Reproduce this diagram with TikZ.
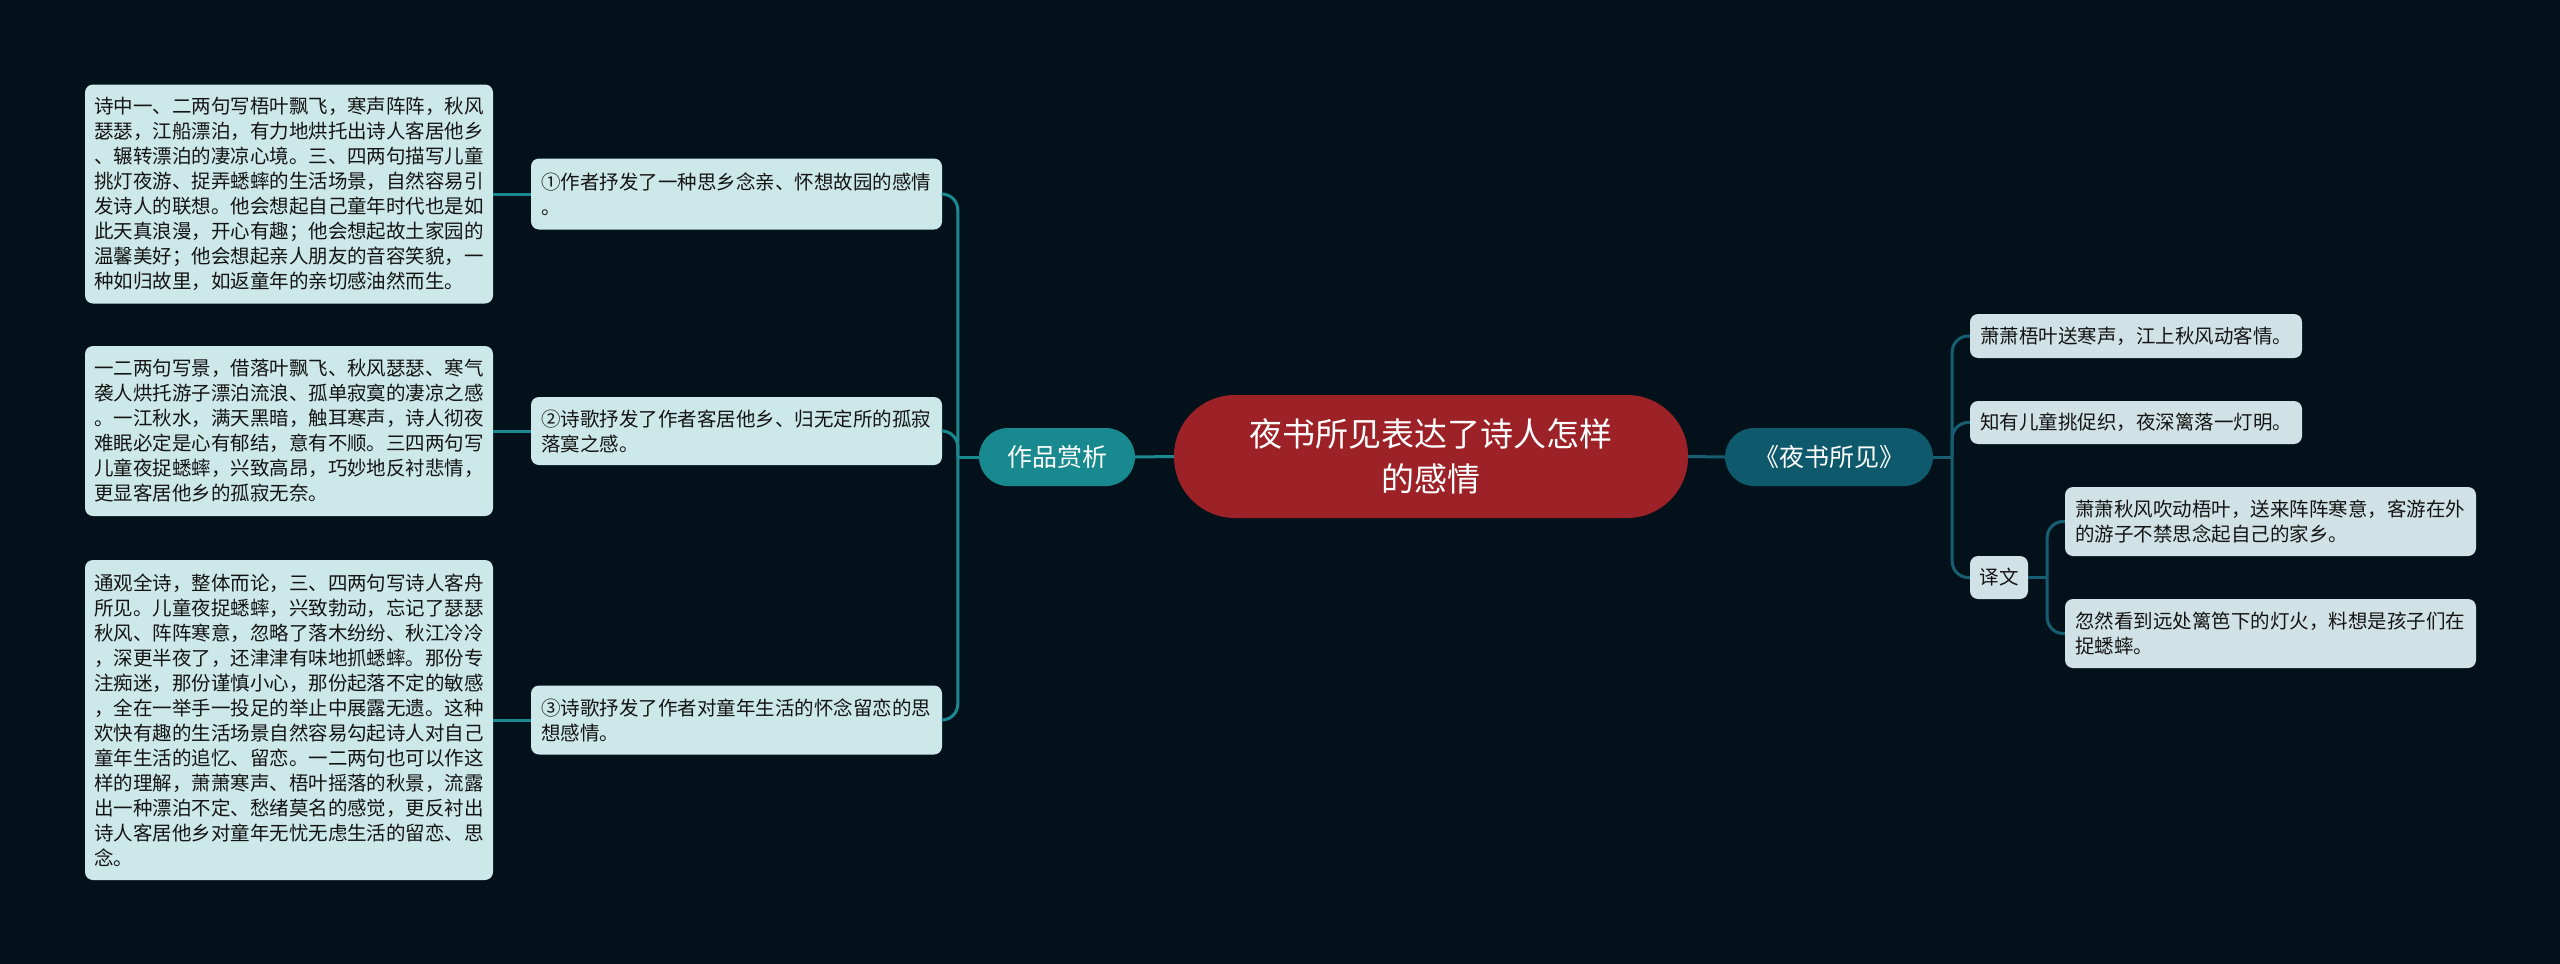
\documentclass[tikz,border=0pt]{standalone}
\usepackage{fontspec}
\newfontfamily\cjk{Noto Sans CJK SC}
\usetikzlibrary{calc}
\definecolor{bgc}{HTML}{03121A}
\definecolor{boxL}{HTML}{CDE8E9}
\definecolor{boxR}{HTML}{D0E2E6}
\definecolor{tealn}{HTML}{17898F}
\definecolor{bluen}{HTML}{0E5A6C}
\definecolor{redn}{HTML}{9C2227}
\definecolor{connL}{HTML}{1A8A90}
\definecolor{connR}{HTML}{165F72}
\definecolor{txt}{HTML}{141414}
\tikzset{
  every node/.style={font=\cjk},
  tbox/.style={draw=none, rounded corners=8pt, inner xsep=9pt, inner ysep=0pt,
    align=left, text=txt, font=\cjk\fontsize{19.5}{25}\selectfont},
  lbox/.style={tbox, fill=boxL},
  rbox/.style={tbox, fill=boxR},
  connl/.style={draw=connL, line width=3pt},
  connr/.style={draw=connR, line width=3pt},
}
\begin{document}
\begin{tikzpicture}[x=1pt,y=-1pt]
\fill[bgc] (0,0) rectangle (2560,964);
\useasboundingbox (0,0) rectangle (2560,964);

% left detail boxes
\node[lbox, text width=390pt, minimum height=219pt] (t1) at (289,194) {%
诗中一、二两句写梧叶飘飞，寒声阵阵，秋风\\
瑟瑟，江船漂泊，有力地烘托出诗人客居他乡\\
、辗转漂泊的凄凉心境。三、四两句描写儿童\\
挑灯夜游、捉弄蟋蟀的生活场景，自然容易引\\
发诗人的联想。他会想起自己童年时代也是如\\
此天真浪漫，开心有趣；他会想起故土家园的\\
温馨美好；他会想起亲人朋友的音容笑貌，一\\
种如归故里，如返童年的亲切感油然而生。};
\node[lbox, text width=390pt, minimum height=170pt] (t2) at (289,431) {%
一二两句写景，借落叶飘飞、秋风瑟瑟、寒气\\
袭人烘托游子漂泊流浪、孤单寂寞的凄凉之感\\
。一江秋水，满天黑暗，触耳寒声，诗人彻夜\\
难眠必定是心有郁结，意有不顺。三四两句写\\
儿童夜捉蟋蟀，兴致高昂，巧妙地反衬悲情，\\
更显客居他乡的孤寂无奈。};
\node[lbox, text width=390pt, minimum height=320pt] (t3) at (289,720) {%
通观全诗，整体而论，三、四两句写诗人客舟\\
所见。儿童夜捉蟋蟀，兴致勃动，忘记了瑟瑟\\
秋风、阵阵寒意，忽略了落木纷纷、秋江冷冷\\
，深更半夜了，还津津有味地抓蟋蟀。那份专\\
注痴迷，那份谨慎小心，那份起落不定的敏感\\
，全在一举手一投足的举止中展露无遗。这种\\
欢快有趣的生活场景自然容易勾起诗人对自己\\
童年生活的追忆、留恋。一二两句也可以作这\\
样的理解，萧萧寒声、梧叶摇落的秋景，流露\\
出一种漂泊不定、愁绪莫名的感觉，更反衬出\\
诗人客居他乡对童年无忧无虑生活的留恋、思\\
念。};

% middle boxes
\node[lbox, text width=391pt, inner xsep=10pt, minimum height=71pt] (n1) at (736.5,194) {%
①作者抒发了一种思乡念亲、怀想故园的感情\\
。};
\node[lbox, text width=391pt, inner xsep=10pt, minimum height=68pt] (n2) at (736.5,431) {%
②诗歌抒发了作者客居他乡、归无定所的孤寂\\
落寞之感。};
\node[lbox, text width=391pt, inner xsep=10pt, minimum height=69pt] (n3) at (736.5,720) {%
③诗歌抒发了作者对童年生活的怀念留恋的思\\
想感情。};

% main nodes
\node[fill=redn, rounded corners=61pt, minimum width=514pt, minimum height=123pt,
  text=white, align=center, font=\cjk\fontsize{33}{45}\selectfont, inner sep=0pt] (c) at (1431,456.5)
  {夜书所见表达了诗人怎样\\的感情};
\node[fill=tealn, rounded corners=29pt, minimum width=156pt, minimum height=58pt,
  text=white, font=\cjk\fontsize{25}{30}\selectfont, inner sep=0pt] (zp) at (1057,457) {作品赏析};
\node[fill=bluen, rounded corners=29pt, minimum width=208pt, minimum height=58pt,
  text=white, font=\cjk\fontsize{25}{30}\selectfont, inner sep=0pt] (ys) at (1829,457) {《夜书所见》};

% right boxes
\node[rbox, text width=312pt, inner xsep=10pt, minimum height=44pt] (r1) at (2136,336) {萧萧梧叶送寒声，江上秋风动客情。};
\node[rbox, text width=312pt, inner xsep=10pt, minimum height=43pt] (r2) at (2136,422.5) {知有儿童挑促织，夜深篱落一灯明。};
\node[rbox, text width=39pt, inner xsep=9.5pt, minimum height=43pt] (yw) at (1999,577.5) {译文};
\node[rbox, text width=391pt, inner xsep=10pt, minimum height=69pt] (r3) at (2270.5,521.5) {%
萧萧秋风吹动梧叶，送来阵阵寒意，客游在外\\
的游子不禁思念起自己的家乡。};
\node[rbox, text width=391pt, inner xsep=10pt, minimum height=69pt] (r4) at (2270.5,633.5) {%
忽然看到远处篱笆下的灯火，料想是孩子们在\\
捉蟋蟀。};

% connectors left
\draw[connl] (c.west) -- (zp.east);
\draw[connl] (zp.west) -- ++(-21,0) coordinate (sl);
\draw[connl, rounded corners=16pt] (sl) |- (n1.east);
\draw[connl, rounded corners=16pt] (sl) |- (n2.east);
\draw[connl, rounded corners=16pt] (sl) |- (n3.east);
\draw[connl] (t1.east) -- (n1.west);
\draw[connl] (t2.east) -- (n2.west);
\draw[connl] (t3.east) -- (n3.west);

% connectors right
\draw[connr] (c.east) -- (ys.west);
\draw[connr] (ys.east) -- ++(19,0) coordinate (sr);
\draw[connr, rounded corners=16pt] (sr) |- (r1.west);
\draw[connr, rounded corners=16pt] (sr) |- (r2.west);
\draw[connr, rounded corners=16pt] (sr) |- (yw.west);
\draw[connr] (yw.east) -- ++(19,0) coordinate (sy);
\draw[connr, rounded corners=16pt] (sy) |- (r3.west);
\draw[connr, rounded corners=16pt] (sy) |- (r4.west);
\end{tikzpicture}
\end{document}
